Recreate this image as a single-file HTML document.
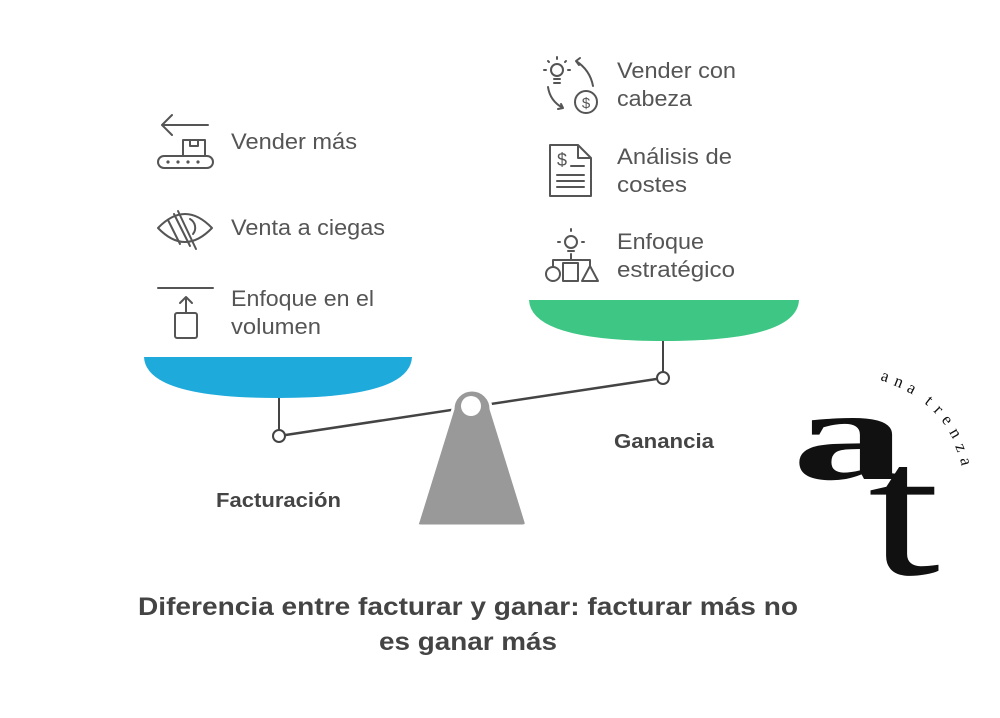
<!DOCTYPE html>
<html><head><meta charset="utf-8"><style>
html,body{margin:0;padding:0;background:#fff;}
svg{display:block}
.s{font-family:"Liberation Sans",sans-serif;}
.sf{font-family:"Liberation Serif",serif;}
</style></head><body>
<svg width="1000" height="718" viewBox="0 0 1000 718" xmlns="http://www.w3.org/2000/svg">
<line x1="279" y1="436" x2="663" y2="378" stroke="#444" stroke-width="2.5"/>
<path d="M453 409 A19 19 0 0 1 491 409 L526 522 Q527 526 522 526 L421 526 Q416 526 418 522 Z" fill="#999" stroke="#fff" stroke-width="3"/>
<circle cx="471" cy="406" r="10" fill="#fff"/>
<path d="M144 357 L412 357 Q410 398 278 398 Q146 398 144 357 Z" fill="#1eaadb"/>
<line x1="279" y1="398" x2="279" y2="430" stroke="#444" stroke-width="2"/>
<circle cx="279" cy="436" r="6" fill="#fff" stroke="#444" stroke-width="2"/>
<path d="M529 300 L799 300 Q797 341 664 341 Q531 341 529 300 Z" fill="#3ec784"/>
<line x1="663" y1="341" x2="663" y2="372" stroke="#444" stroke-width="2"/>
<circle cx="663" cy="378" r="6" fill="#fff" stroke="#444" stroke-width="2"/>

<g class="s" fill="#555" font-size="22">
<text x="231" y="149" textLength="126" lengthAdjust="spacingAndGlyphs">Vender más</text>
<text x="231" y="235" textLength="154" lengthAdjust="spacingAndGlyphs">Venta a ciegas</text>
<text x="231" y="306" textLength="143" lengthAdjust="spacingAndGlyphs">Enfoque en el</text>
<text x="231" y="334" textLength="90" lengthAdjust="spacingAndGlyphs">volumen</text>
<text x="617" y="78" textLength="119" lengthAdjust="spacingAndGlyphs">Vender con</text>
<text x="617" y="106" textLength="75" lengthAdjust="spacingAndGlyphs">cabeza</text>
<text x="617" y="164" textLength="115" lengthAdjust="spacingAndGlyphs">Análisis de</text>
<text x="617" y="192" textLength="70" lengthAdjust="spacingAndGlyphs">costes</text>
<text x="617" y="249" textLength="87" lengthAdjust="spacingAndGlyphs">Enfoque</text>
<text x="617" y="277" textLength="118" lengthAdjust="spacingAndGlyphs">estratégico</text>
</g>
<g class="s" fill="#444" font-weight="bold">
<text x="216" y="507" font-size="20" textLength="125" lengthAdjust="spacingAndGlyphs">Facturación</text>
<text x="614" y="448" font-size="20" textLength="100" lengthAdjust="spacingAndGlyphs">Ganancia</text>
<text x="138" y="615" font-size="25" textLength="660" lengthAdjust="spacingAndGlyphs">Diferencia entre facturar y ganar: facturar más no</text>
<text x="379" y="650" font-size="25" textLength="178" lengthAdjust="spacingAndGlyphs">es ganar más</text>
</g>

<g fill="none" stroke="#555" stroke-width="2" stroke-linecap="round" stroke-linejoin="round">
<path d="M162 125 L208 125 M172 115 L162 125 L172 135"/>
<rect x="183" y="140" width="22" height="16"/><rect x="190" y="140" width="8" height="6"/>
<rect x="158" y="156" width="55" height="12" rx="6"/>
<g fill="#555" stroke="none"><circle cx="168" cy="162" r="1.6"/><circle cx="178" cy="162" r="1.6"/><circle cx="188" cy="162" r="1.6"/><circle cx="198" cy="162" r="1.6"/></g>
<path d="M158 228 Q185 200 212 228 Q185 256 158 228 Z"/>
<path d="M178 211 L196 249 M168 220 L180 244 M174 214 L190 246"/>
<path d="M190 219 A10 10 0 0 1 193 234"/>
<path d="M158 288 L213 288 M186 313 L186 297 M180 303 L186 297 L192 303"/>
<rect x="175" y="313" width="22" height="25" rx="2"/>
<circle cx="557" cy="70" r="6"/><path d="M554 79 L560 79 M554 83 L560 83 M557 59 L557 57 M546 70 L544 70 M568 70 L570 70 M549 62 L548 61 M565 62 L566 61"/>
<path d="M576 61 Q590 70 593 86 M576 61 L580 58 M576 61 L579 65"/>
<path d="M548 87 Q550 101 563 108 M563 108 L558 109 M563 108 L561 104"/>
<circle cx="586" cy="102" r="11"/><text class="s" x="586" y="108" font-size="15" fill="#555" stroke="none" text-anchor="middle">$</text>
<path d="M550 145 L578 145 L591 158 L591 196 L550 196 Z M578 145 L578 158 L591 158"/>
<text class="s" x="562" y="166" font-size="18" fill="#555" stroke="none" text-anchor="middle">$</text>
<path d="M571 166 L584 166 M557 175 L584 175 M557 181 L584 181 M557 187 L584 187"/>
<circle cx="571" cy="242" r="6"/><path d="M568 251 L574 251 M571 254 L571 260 M571 231 L571 229 M560 242 L558 242 M582 242 L584 242"/>
<path d="M553 260 L590 260 M553 260 L553 266 M590 260 L590 266"/>
<circle cx="553" cy="274" r="7"/><rect x="563" y="263" width="15" height="18"/><path d="M590 266 L598 281 L582 281 Z"/>
</g>

<g fill="#111">
<text class="sf" x="792" y="479" font-size="130" font-weight="bold" textLength="114" lengthAdjust="spacingAndGlyphs">a</text>
<text class="sf" x="868" y="574" font-size="190" textLength="72" lengthAdjust="spacingAndGlyphs">t</text>
<g class="sf" font-size="17">
<text transform="translate(880,380) rotate(18)">a</text>
<text transform="translate(893,385) rotate(22)">n</text>
<text transform="translate(906,391) rotate(28)">a</text>
<text transform="translate(924,403) rotate(38)">t</text>
<text transform="translate(933,411) rotate(45)">r</text>
<text transform="translate(941,420) rotate(52)">e</text>
<text transform="translate(949,432) rotate(60)">n</text>
<text transform="translate(955,446) rotate(68)">z</text>
<text transform="translate(960,459) rotate(76)">a</text>
</g>
</g>
</svg>
</body></html>
